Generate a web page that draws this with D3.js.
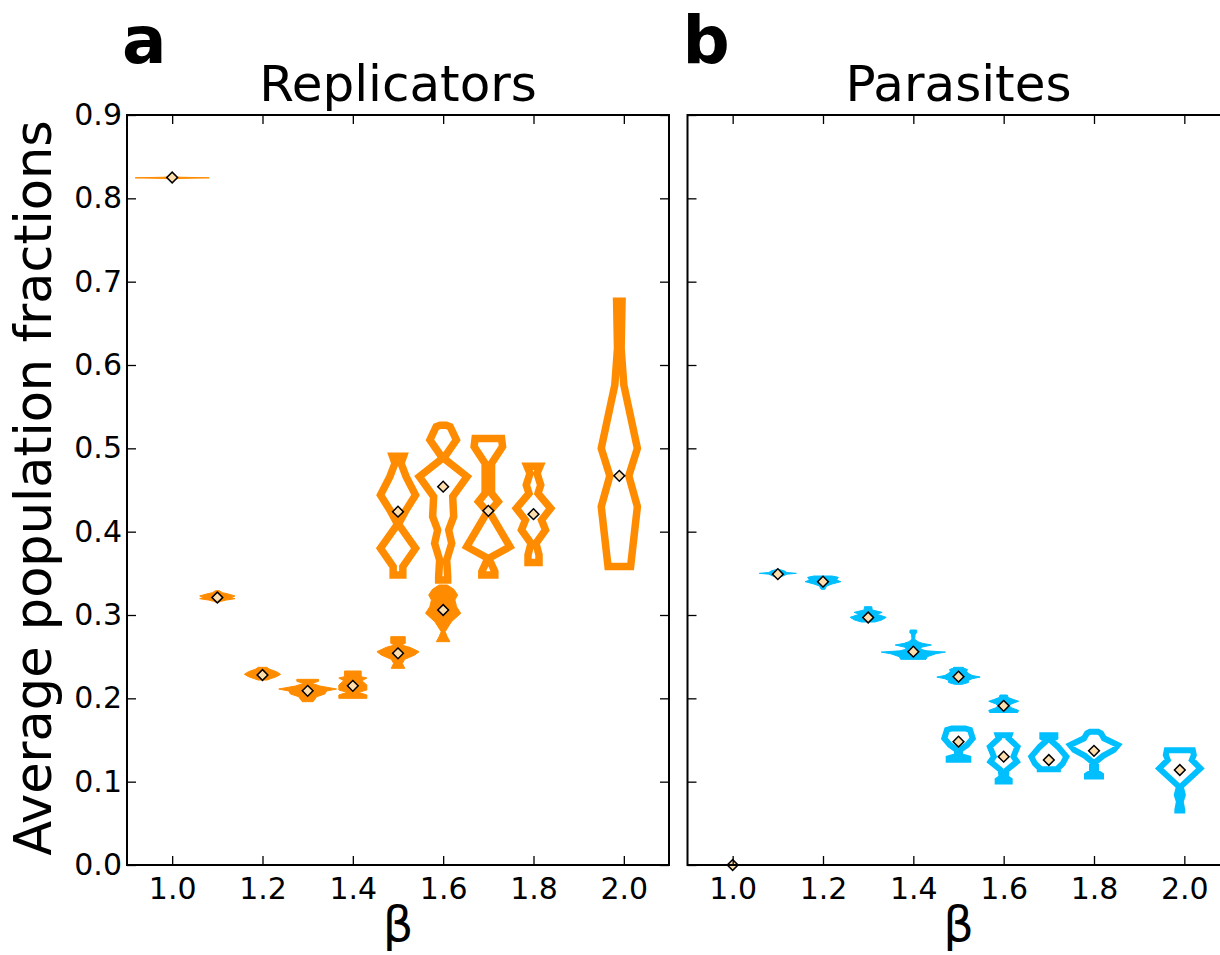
<!DOCTYPE html>
<html>
<head>
<meta charset="utf-8">
<script src="https://cdnjs.cloudflare.com/ajax/libs/d3/7.8.5/d3.min.js"></script>
<style>
	body { margin: 0; background: #fff; }
	svg { display: block; font-family: "DejaVu Sans", sans-serif; }
</style>
</head>
<body>
<svg class="chart" width="1220" height="955"></svg>
<script>
(function() {

	//VARS
	var orange = '#FF8C00'
	var blue = '#00BFFF'
	var markerFill = '#FFDEAD'

	var xTicks = [1.0, 1.2, 1.4, 1.6, 1.8, 2.0]
	var yTicks = [0.0, 0.1, 0.2, 0.3, 0.4, 0.5, 0.6, 0.7, 0.8, 0.9]
	var xDomain = [0.9, 2.1]
	var yDomain = [0, 0.9]

	var titles = ['Replicators', 'Parasites']
	var letters = ['a', 'b']
	var xLabel = 'β'
	var yLabel = 'Average population fractions'

	// each violin: beta, mean, profile of [fraction, half width in beta units]
	var replicatorsRegime1 = [
		{ beta: 1.0, mean: 0.825, profile: [[0.8232,0],[0.8239,0.02],[0.8246,0.082],[0.8253,0.02],[0.826,0]] },
		{ beta: 1.1, mean: 0.321, profile: [[0.3152,0.003],[0.3164,0.008],[0.318,0.02],[0.3196,0.039],[0.3212,0.03],[0.3228,0.039],[0.3252,0.024],[0.3268,0.011],[0.3292,0.004]] },
		{ beta: 1.2, mean: 0.228, profile: [[0.222,0.01],[0.2236,0.018],[0.226,0.031],[0.2288,0.04],[0.232,0.031],[0.2348,0.016],[0.2372,0.0093]] },
		{ beta: 1.3, mean: 0.209, profile: [[0.196,0.012],[0.1988,0.016],[0.202,0.02],[0.2052,0.038],[0.2088,0.042],[0.2112,0.064],[0.2148,0.027],[0.218,0.009],[0.2204,0.024],[0.2228,0.024]] },
		{ beta: 1.4, mean: 0.215, profile: [[0.2,0.031],[0.204,0.031],[0.2072,0.0126],[0.21,0.031],[0.216,0.031],[0.2212,0.02],[0.2244,0.031],[0.226,0.0185],[0.2328,0.0185]] },
		{ beta: 1.5, mean: 0.254, profile: [[0.236,0.015],[0.242,0.0096],[0.2468,0.015],[0.252,0.037],[0.256,0.0466],[0.2612,0.026],[0.264,0.0074],[0.266,0.016],[0.274,0.016]] },
		{ beta: 1.6, mean: 0.306, profile: [[0.268,0.015],[0.274,0.009],[0.28,0.0044],[0.292,0.0185],[0.302,0.039],[0.31,0.0296],[0.318,0.026],[0.324,0.032],[0.3308,0.0237],[0.336,0.009]] }
	]

	var replicatorsRegime2 = [
		{ beta: 1.5, mean: 0.424, profile: [[0.348,0.0107],[0.358,0.0107],[0.38,0.0388],[0.409,0.001],[0.426,0.018],[0.444,0.0388],[0.466,0.018],[0.4821,0.0067],[0.4906,0.0122]] },
		{ beta: 1.6, mean: 0.454, profile: [[0.342,0.01],[0.346,0.01],[0.366,0.0078],[0.3861,0.0189],[0.402,0.0122],[0.418,0.0233],[0.442,0.0211],[0.466,0.0528],[0.4881,0.0011],[0.51,0.0293],[0.526,0.0155],[0.5278,0.0067]] },
		{ beta: 1.7, mean: 0.425, profile: [[0.348,0.0144],[0.352,0.0144],[0.368,0.001],[0.382,0.0477],[0.424,0.002],[0.436,0.0217],[0.446,0.0071],[0.482,0.0071],[0.502,0.0315],[0.5118,0.0293]] },
		{ beta: 1.8, mean: 0.421, profile: [[0.363,0.0122],[0.372,0.0122],[0.386,0.0055],[0.402,0.0266],[0.414,0.0178],[0.428,0.038],[0.446,0.01],[0.456,0.016],[0.47,0.0078],[0.4786,0.0144]] },
		{ beta: 1.99, mean: 0.467, profile: [[0.3582,0.025],[0.43,0.04],[0.467,0.021],[0.5,0.04],[0.576,0.01],[0.62,0.004],[0.6764,0.006]] }
	]

	var parasitesRegime1 = [
		{ beta: 1.0, mean: 0.0, profile: [[-0.0004,0],[0,0.003],[0.0004,0]] },
		{ beta: 1.1, mean: 0.349, profile: [[0.3452,0.002],[0.347,0.012],[0.349,0.02],[0.35,0.041],[0.351,0.02],[0.353,0.014],[0.3548,0.002]] },
		{ beta: 1.2, mean: 0.34, profile: [[0.3308,0.004],[0.3348,0.008],[0.3372,0.02],[0.34,0.0395],[0.342,0.03],[0.3452,0.034],[0.3468,0.02]] },
		{ beta: 1.3, mean: 0.297, profile: [[0.2916,0.015],[0.294,0.03],[0.2972,0.04],[0.3008,0.02],[0.3032,0.031],[0.306,0.009],[0.31,0.008]] },
		{ beta: 1.4, mean: 0.256, profile: [[0.2468,0.028],[0.25,0.031],[0.2535,0.05],[0.2555,0.071],[0.257,0.03],[0.259,0.015],[0.2615,0.02],[0.264,0.04],[0.266,0.02],[0.268,0.01],[0.271,0.003],[0.277,0.004],[0.279,0.008],[0.282,0.007]] },
		{ beta: 1.5, mean: 0.226, profile: [[0.2168,0.008],[0.219,0.022],[0.2215,0.022],[0.2235,0.03],[0.2255,0.048],[0.2275,0.03],[0.23,0.022],[0.2325,0.018],[0.2345,0.02],[0.236,0.013],[0.2372,0.01]] },
		{ beta: 1.6, mean: 0.191, profile: [[0.183,0.031],[0.1855,0.033],[0.1885,0.018],[0.191,0.012],[0.1935,0.018],[0.1965,0.033],[0.1985,0.022],[0.201,0.01],[0.204,0.008]] }
	]

	var parasitesRegime2 = [
		{ beta: 1.5, mean: 0.148, profile: [[0.1262,0.0217],[0.128,0.0217],[0.1308,0.0033],[0.138,0.0033],[0.144,0.019],[0.152,0.0315],[0.162,0.0255],[0.1638,0.0148]] },
		{ beta: 1.6, mean: 0.13, profile: [[0.1002,0.0133],[0.102,0.0133],[0.1052,0.0044],[0.114,0.0067],[0.124,0.0293],[0.13,0.0217],[0.142,0.0306],[0.152,0.011],[0.1558,0.0133]] },
		{ beta: 1.7, mean: 0.126, profile: [[0.115,0.02],[0.116,0.02],[0.122,0.031],[0.13,0.0388],[0.142,0.02],[0.15,0.0033],[0.153,0.0144],[0.1558,0.0144]] },
		{ beta: 1.8, mean: 0.137, profile: [[0.1062,0.0155],[0.108,0.0155],[0.112,0.0044],[0.124,0.0044],[0.131,0.02],[0.138,0.044],[0.144,0.053],[0.152,0.022],[0.158,0.0155],[0.1598,0.0089]] },
		{ beta: 1.99, mean: 0.114, profile: [[0.0654,0.0055],[0.066,0.0055],[0.076,0.002],[0.084,0.0067],[0.094,0.002],[0.116,0.0455],[0.126,0.0266],[0.132,0.031],[0.1378,0.0288]] }
	]

	var panels = [
		{ title: titles[0], letter: letters[0], color: orange, left: 127, right: 669, hollowWidth: 7.5,
			regimes: [replicatorsRegime1, replicatorsRegime2], yLabels: true },
		{ title: titles[1], letter: letters[1], color: blue, left: 687.5, right: 1229.5, hollowWidth: 6,
			regimes: [parasitesRegime1, parasitesRegime2], yLabels: false }
	]

	var top = 115
	var bottom = 865
	var tickLength = 9
	var tickFont = 30

	var svg = d3.select('.chart')

	// SCALES
	var y = d3.scaleLinear().domain(yDomain).range([bottom, top])

	function violinPath(x, d) {
		var right = d.profile.map(function(p) { return [x(d.beta + p[1]), y(p[0])] })
		var left = d.profile.slice().reverse().map(function(p) { return [x(d.beta - p[1]), y(p[0])] })
		return d3.line().curve(d3.curveLinearClosed)(right.concat(left))
	}

	function styleAxis(g) {
		g.select('.domain').remove()
		g.selectAll('.tick line')
			.attr('stroke', '#000')
			.attr('stroke-width', 1.3)
		g.attr('font-size', tickFont)
			.attr('font-family', '"DejaVu Sans", sans-serif')
		g.selectAll('.tick text').attr('fill', '#000')
	}

	function drawPanel(p) {
		var x = d3.scaleLinear().domain(xDomain).range([p.left, p.right])
		var g = svg.append('g').attr('class', 'panel')

		// regime 1: solid violins
		g.append('g').selectAll('path')
			.data(p.regimes[0])
			.enter().append('path')
			.attr('d', function(d) { return violinPath(x, d) })
			.attr('fill', p.color)
			.attr('stroke', p.color)
			.attr('stroke-width', 1)
			.attr('stroke-linejoin', 'miter')

		// regime 2: outlined violins
		g.append('g').selectAll('path')
			.data(p.regimes[1])
			.enter().append('path')
			.attr('d', function(d) { return violinPath(x, d) })
			.attr('fill', 'none')
			.attr('stroke', p.color)
			.attr('stroke-width', p.hollowWidth)
			.attr('stroke-linejoin', 'miter')
			.attr('stroke-miterlimit', 3)

		// means
		var all = p.regimes[0].concat(p.regimes[1])
		var diamond = d3.symbol().type(d3.symbolSquare).size(58)
		g.append('g').selectAll('path')
			.data(all)
			.enter().append('path')
			.attr('d', diamond)
			.attr('transform', function(d) { return 'translate(' + x(d.beta) + ',' + y(d.mean) + ')rotate(45)' })
			.attr('fill', markerFill)
			.attr('stroke', '#000')
			.attr('stroke-width', 1.5)

		// axes, ticks point inward
		g.append('g')
			.attr('transform', 'translate(0,' + bottom + ')')
			.call(d3.axisBottom(x).tickValues(xTicks).tickFormat(d3.format('.1f'))
				.tickSizeInner(-tickLength).tickSizeOuter(0).tickPadding(13))
			.call(styleAxis)

		g.append('g')
			.attr('transform', 'translate(0,' + top + ')')
			.call(d3.axisTop(x).tickValues(xTicks).tickFormat('')
				.tickSizeInner(-tickLength).tickSizeOuter(0))
			.call(styleAxis)

		g.append('g')
			.attr('transform', 'translate(' + p.left + ',0)')
			.call(d3.axisLeft(y).tickValues(yTicks)
				.tickFormat(p.yLabels ? d3.format('.1f') : '')
				.tickSizeInner(-tickLength).tickSizeOuter(0).tickPadding(5))
			.call(styleAxis)

		g.append('g')
			.attr('transform', 'translate(' + p.right + ',0)')
			.call(d3.axisRight(y).tickValues(yTicks).tickFormat('')
				.tickSizeInner(-tickLength).tickSizeOuter(0))
			.call(styleAxis)

		g.append('rect')
			.attr('x', p.left)
			.attr('y', top)
			.attr('width', p.right - p.left)
			.attr('height', bottom - top)
			.attr('fill', 'none')
			.attr('stroke', '#000')
			.attr('stroke-width', 2)

		// labels
		var cx = (p.left + p.right) / 2
		g.append('text')
			.attr('x', cx)
			.attr('y', 101)
			.attr('text-anchor', 'middle')
			.attr('font-size', 50)
			.text(p.title)

		g.append('text')
			.attr('x', cx)
			.attr('y', 941)
			.attr('text-anchor', 'middle')
			.attr('font-size', 48)
			.text(xLabel)

		g.append('text')
			.attr('x', p.left - 5)
			.attr('y', 63)
			.attr('font-size', 66)
			.attr('font-weight', 'bold')
			.text(p.letter)
	}

	function init() {
		panels.forEach(drawPanel)

		svg.append('text')
			.attr('transform', 'translate(51,' + ((top + bottom) / 2 - 2) + ')rotate(-90)')
			.attr('text-anchor', 'middle')
			.attr('font-size', 51)
			.text(yLabel)
	}

	init()
})()
</script>
</body>
</html>
